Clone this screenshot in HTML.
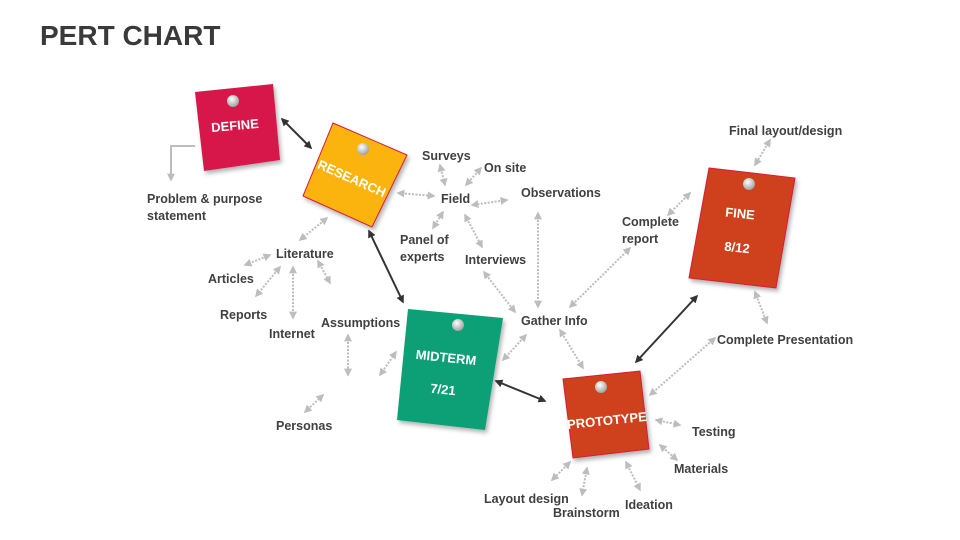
<!DOCTYPE html>
<html><head><meta charset="utf-8"><style>
body{margin:0;background:#fff}
svg{display:block}
text{font-family:"Liberation Sans",sans-serif;font-weight:bold}
.l{fill:#404040;font-size:12.5px}
.n{fill:#fff;font-size:13px}
.g{stroke:#bdbdbd;stroke-width:2;stroke-dasharray:2 1.5;fill:none;marker-start:url(#ga);marker-end:url(#ga)}
.d{stroke:#333;stroke-width:2;fill:none;marker-start:url(#da);marker-end:url(#da)}
</style></head><body>
<svg width="960" height="540" viewBox="0 0 960 540">
<defs>
<marker id="ga" viewBox="0 0 10 10" refX="8" refY="5" markerWidth="4" markerHeight="4" orient="auto-start-reverse"><path d="M0,0L10,5L0,10z" fill="#bdbdbd"/></marker>
<marker id="da" viewBox="0 0 10 10" refX="8" refY="5" markerWidth="4" markerHeight="4" orient="auto-start-reverse"><path d="M0,0L10,5L0,10z" fill="#333"/></marker>
<marker id="sa" viewBox="0 0 10 10" refX="8" refY="5" markerWidth="4" markerHeight="4" orient="auto"><path d="M0,0L10,5L0,10z" fill="#bdbdbd"/></marker>
<radialGradient id="pin" cx="0.4" cy="0.35" r="0.7"><stop offset="0" stop-color="#fff"/><stop offset="1" stop-color="#9a9a9a"/></radialGradient>
<filter id="sh" x="-20%" y="-20%" width="140%" height="140%"><feDropShadow dx="2" dy="3" stdDeviation="2" flood-opacity="0.3"/></filter>
</defs>
<text x="40" y="45" style="font-size:28px;fill:#3a3a3a">PERT CHART</text>

<path class="g" d="M398,193L434,196"/>
<path class="g" d="M440,165L445,185"/>
<path class="g" d="M481,168L466,185"/>
<path class="g" d="M507,200L472,205"/>
<path class="g" d="M433,228L443,212"/>
<path class="g" d="M465,215L482,247"/>
<path class="g" d="M538,213L538,307"/>
<path class="g" d="M484,272L515,312"/>
<path class="g" d="M570,307L630,248"/>
<path class="g" d="M327,218L300,240"/>
<path class="g" d="M270,255L245,265"/>
<path class="g" d="M280,267L256,296"/>
<path class="g" d="M293,267L293,318"/>
<path class="g" d="M318,261L330,283"/>
<path class="g" d="M348,335L348,375"/>
<path class="g" d="M380,375L396,352"/>
<path class="g" d="M305,412L323,395"/>
<path class="g" d="M526,335L503,360"/>
<path class="g" d="M560,330L583,368"/>
<path class="g" d="M770,140L755,165"/>
<path class="g" d="M690,193L668,215"/>
<path class="g" d="M755,292L767,323"/>
<path class="g" d="M715,338L650,395"/>
<path class="g" d="M656,420L680,425"/>
<path class="g" d="M660,445L677,460"/>
<path class="g" d="M626,462L640,490"/>
<path class="g" d="M587,468L582,495"/>
<path class="g" d="M570,462L552,480"/>
<path d="M195,146L171,146L171,180" stroke="#bdbdbd" stroke-width="2" fill="none" marker-end="url(#sa)"/>

<path class="d" d="M282,119L311,148"/>
<path class="d" d="M369,231L403,302"/>
<path class="d" d="M496,381L545,401"/>
<path class="d" d="M636,362L697,296"/>

<g filter="url(#sh)">
<polygon points="195,92 273,84 280,160 204,171" fill="#d7174a"/>
<polygon points="333,123 407,155 372,227 303,196" fill="#fbb40c" stroke="#d81b3a" stroke-width="1"/>
<polygon points="408,309 503,318 485,430 397,420" fill="#07a077"/>
<polygon points="563,379 640,371 649,449 573,458" fill="#cf3f1c" stroke="#d81b3a" stroke-width="1"/>
<polygon points="709,168 795,178 776,288 689,278" fill="#cf3f1c" stroke="#d81b3a" stroke-width="1"/>
</g>
<g fill="url(#pin)">
<circle cx="233" cy="101" r="6"/>
<circle cx="363" cy="149" r="6"/>
<circle cx="458" cy="325" r="6"/>
<circle cx="601" cy="387" r="6"/>
<circle cx="749" cy="184" r="6"/>
</g>
<text class="n" x="235" y="130" text-anchor="middle" transform="rotate(-5 235 126)">DEFINE</text>
<text class="n" x="352" y="183" text-anchor="middle" transform="rotate(24 352 178)">RESEARCH</text>
<text class="n" x="446" y="362" text-anchor="middle" transform="rotate(6 446 358)">MIDTERM</text>
<text class="n" x="443" y="394" text-anchor="middle" transform="rotate(6 443 390)">7/21</text>
<text class="n" x="607" y="425" text-anchor="middle" transform="rotate(-6 607 421)">PROTOTYPE</text>
<text class="n" x="740" y="218" text-anchor="middle" transform="rotate(6 740 214)">FINE</text>
<text class="n" x="737" y="252" text-anchor="middle" transform="rotate(6 737 248)">8/12</text>

<g class="l">
<text x="147" y="203">Problem &amp; purpose</text>
<text x="147" y="220">statement</text>
<text x="422" y="160">Surveys</text>
<text x="484" y="172">On site</text>
<text x="441" y="203">Field</text>
<text x="521" y="197">Observations</text>
<text x="400" y="244">Panel of</text>
<text x="400" y="261">experts</text>
<text x="465" y="264">Interviews</text>
<text x="276" y="258">Literature</text>
<text x="208" y="283">Articles</text>
<text x="220" y="319">Reports</text>
<text x="269" y="338">Internet</text>
<text x="321" y="327">Assumptions</text>
<text x="276" y="430">Personas</text>
<text x="521" y="325">Gather Info</text>
<text x="622" y="226">Complete</text>
<text x="622" y="243">report</text>
<text x="729" y="135">Final layout/design</text>
<text x="717" y="344">Complete Presentation</text>
<text x="692" y="436">Testing</text>
<text x="674" y="473">Materials</text>
<text x="625" y="509">Ideation</text>
<text x="484" y="503">Layout design</text>
<text x="553" y="517">Brainstorm</text>
</g>
</svg>
</body></html>
